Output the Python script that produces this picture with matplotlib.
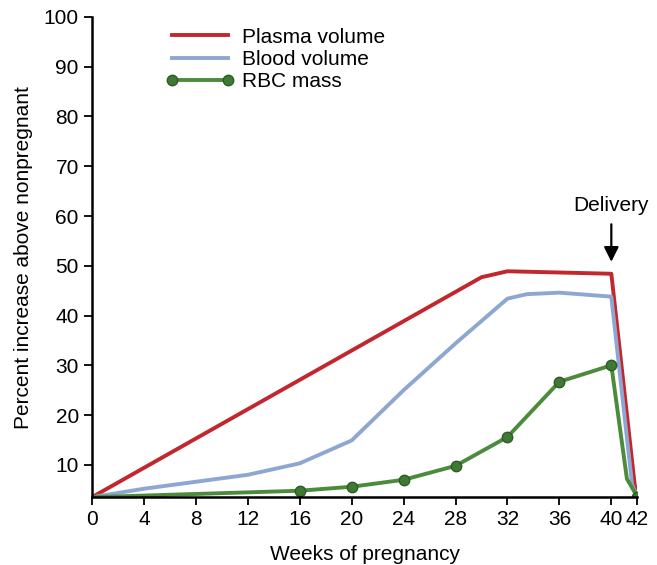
import matplotlib
matplotlib.use("Agg")
import matplotlib.pyplot as plt

plt.rcParams['font.family'] = ['Liberation Sans', 'DejaVu Sans']

# donnees
plasma_x = [0, 30, 32, 40, 41.8, 42]
plasma_y = [3.5, 47.7, 48.9, 48.4, 6, 3.6]

blood_x = [0, 4, 8, 12, 16, 20, 24, 28, 32, 33.5, 36, 40, 41.6, 42]
blood_y = [3.5, 5.2, 6.6, 8.0, 10.3, 14.9, 25.0, 34.4, 43.4, 44.3, 44.6, 43.8, 6, 3.6]

rbc_x = [0, 16, 20, 24, 28, 32, 36, 40, 41.2, 42]
rbc_y = [3.5, 4.8, 5.6, 7.0, 9.8, 15.6, 26.7, 30.0, 7.2, 3.6]
rbc_marks = [1, 2, 3, 4, 5, 6, 7, 9]

xticks = [0, 4, 8, 12, 16, 20, 24, 28, 32, 36, 40, 42]
yticks = [10, 20, 30, 40, 50, 60, 70, 80, 90, 100]

fs = 15

fig = plt.figure(figsize=(6.57, 5.65), dpi=100)
ax = fig.add_axes([0.14, 0.12, 0.83, 0.85])

ax.plot(plasma_x, plasma_y, color='#c1272d', lw=2.8, label='Plasma volume')
ax.plot(blood_x, blood_y, color='#8ea7d2', lw=2.8, label='Blood volume')
ax.plot(rbc_x, rbc_y, color='#4b8b3b', lw=2.8, marker='o', markersize=7.5,
        markerfacecolor='#3f7a34', markeredgecolor='#2f5a28',
        markevery=rbc_marks, label='RBC mass')

ax.annotate('Delivery', xy=(40, 50.8), xytext=(40, 62.2),
            ha='center', va='center', fontsize=fs,
            arrowprops=dict(arrowstyle='-|>', color='black', lw=1.6,
                            shrinkA=5, shrinkB=0, mutation_scale=22))

ax.set_xlim(0, 42)
ax.set_ylim(3.5, 100)
ax.set_xticks(xticks)
ax.set_yticks(yticks)
ax.tick_params(labelsize=fs, length=6, width=1.3, direction='out')
for s in ['top', 'right']:
    ax.spines[s].set_visible(False)
for s in ['left', 'bottom']:
    ax.spines[s].set_linewidth(1.8)
ax.set_xlabel('Weeks of pregnancy', fontsize=fs, labelpad=11)
ax.set_ylabel('Percent increase above nonpregnant', fontsize=fs, labelpad=8)

ax.legend(loc='upper left', bbox_to_anchor=(0.12, 0.995), frameon=False,
          fontsize=fs, handlelength=3.3, handletextpad=0.35, numpoints=2,
          labelspacing=0.15, borderaxespad=0)

fig.savefig('out.png', dpi=100)
